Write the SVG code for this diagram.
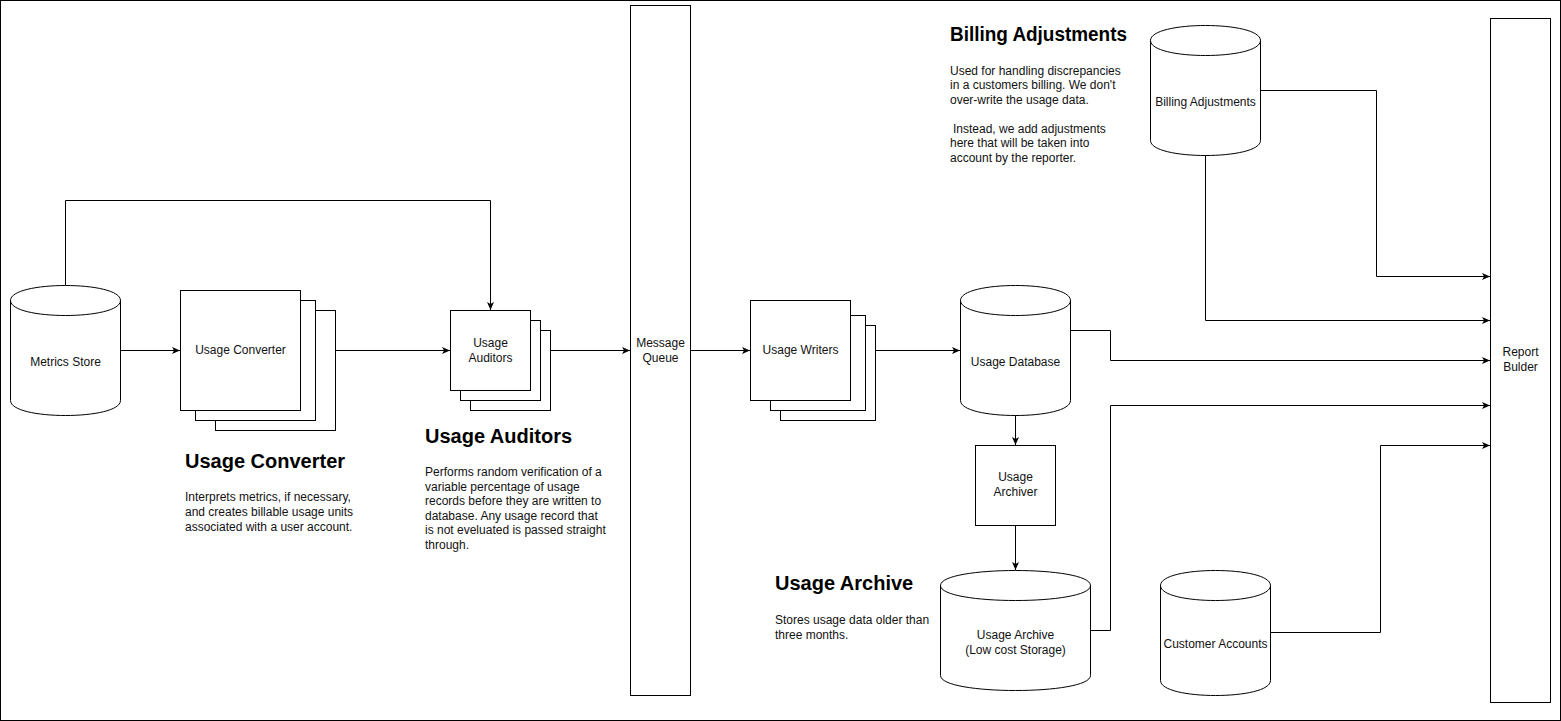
<svg xmlns="http://www.w3.org/2000/svg" width="1561" height="721" viewBox="0 0 1561 721">
<style>
.s{fill:#fff;stroke:#000;stroke-width:1}
.c{fill:none;stroke:#000;stroke-width:1}
.l{font-family:"Liberation Sans",Arial,sans-serif;font-size:12px;fill:#111;text-anchor:middle}
.h{font-family:"Liberation Sans",Arial,sans-serif;font-size:20px;font-weight:bold;fill:#000}
.b{font-family:"Liberation Sans",Arial,sans-serif;font-size:12px;fill:#111}
</style>
<defs>
<marker id="a" markerUnits="userSpaceOnUse" viewBox="0 0 8 8" refX="8" refY="4" markerWidth="8" markerHeight="8" orient="auto">
<path d="M0,0.5 L8,4 L0,7.5 L2,4 Z" fill="#000"/>
</marker>
</defs>
<rect x="0.5" y="0.5" width="1560" height="720" fill="#fff" stroke="#000"/>

<g id="connectors" class="c" marker-end="url(#a)">
<path d="M120,350.5 H180"/>
<path d="M335,350.5 H450"/>
<path d="M550,350.5 H630"/>
<path d="M690,350.5 H750"/>
<path d="M875,350.5 H960"/>
<path d="M65.5,285 V200.5 H490.5 V310"/>
<path d="M1015.5,415 V445"/>
<path d="M1015.5,525 V570"/>
<path d="M1260,90.5 H1376.5 V276.5 H1490"/>
<path d="M1205.5,155 V320.5 H1490"/>
<path d="M1070,330.5 H1110.5 V360.5 H1490"/>
<path d="M1090,630.5 H1110.5 V405.5 H1490"/>
<path d="M1270,632.5 H1380.5 V445.5 H1490"/>
</g>

<g id="metrics-store">
<path class="s" transform="translate(10.5,285.5)" d="M0,15 C0,-5 110,-5 110,15 L110,115 C110,135 0,135 0,115 Z M0,15 C0,35 110,35 110,15"/>
<text class="l" x="65.5" y="366">Metrics Store</text>
</g>

<g id="usage-converter">
<rect class="s" x="215.5" y="310.5" width="120" height="120"/>
<rect class="s" x="195.5" y="300.5" width="120" height="120"/>
<rect class="s" x="180.5" y="290.5" width="120" height="120"/>
<text class="l" x="240.5" y="354">Usage Converter</text>
</g>

<g id="usage-auditors">
<rect class="s" x="470.5" y="330.5" width="80" height="80"/>
<rect class="s" x="460.5" y="320.5" width="80" height="80"/>
<rect class="s" x="450.5" y="310.5" width="80" height="80"/>
<text class="l" x="490.5" y="347">Usage</text>
<text class="l" x="490.5" y="362">Auditors</text>
</g>

<g id="message-queue">
<rect class="s" x="630.5" y="5.5" width="60" height="690"/>
<text class="l" x="660.5" y="347">Message</text>
<text class="l" x="660.5" y="362">Queue</text>
</g>

<g id="usage-writers">
<rect class="s" x="780.5" y="325.5" width="95" height="95"/>
<rect class="s" x="770.5" y="315.5" width="95" height="95"/>
<rect class="s" x="750.5" y="300.5" width="100" height="100"/>
<text class="l" x="800.5" y="354">Usage Writers</text>
</g>

<g id="usage-database">
<path class="s" transform="translate(960.5,285.5)" d="M0,15 C0,-5 110,-5 110,15 L110,115 C110,135 0,135 0,115 Z M0,15 C0,35 110,35 110,15"/>
<text class="l" x="1015.5" y="366">Usage Database</text>
</g>

<g id="usage-archiver">
<rect class="s" x="975.5" y="445.5" width="80" height="80"/>
<text class="l" x="1015.5" y="481">Usage</text>
<text class="l" x="1015.5" y="496">Archiver</text>
</g>

<g id="usage-archive">
<path class="s" transform="translate(940.5,570.5)" d="M0,15 C0,-5 150,-5 150,15 L150,105 C150,125 0,125 0,105 Z M0,15 C0,35 150,35 150,15"/>
<text class="l" x="1015.5" y="639">Usage Archive</text>
<text class="l" x="1015.5" y="654">(Low cost Storage)</text>
</g>

<g id="customer-accounts">
<path class="s" transform="translate(1160.5,570.5)" d="M0,15 C0,-5 110,-5 110,15 L110,110 C110,130 0,130 0,110 Z M0,15 C0,35 110,35 110,15"/>
<text class="l" x="1215.5" y="648">Customer Accounts</text>
</g>

<g id="billing-adjustments">
<path class="s" transform="translate(1150.5,25.5)" d="M0,15 C0,-5 110,-5 110,15 L110,115 C110,135 0,135 0,115 Z M0,15 C0,35 110,35 110,15"/>
<text class="l" x="1205.5" y="106">Billing Adjustments</text>
</g>

<g id="report-builder">
<rect class="s" x="1490.5" y="18.5" width="60" height="684"/>
<text class="l" x="1520.5" y="356">Report</text>
<text class="l" x="1520.5" y="371">Bulder</text>
</g>

<g id="text-usage-converter">
<text class="h" x="185" y="468">Usage Converter</text>
<text class="b" x="185" y="501">Interprets metrics, if necessary,</text>
<text class="b" x="185" y="516">and creates billable usage units</text>
<text class="b" x="185" y="531">associated with a user account.</text>
</g>

<g id="text-usage-auditors">
<text class="h" x="425" y="443">Usage Auditors</text>
<text class="b" x="425" y="476">Performs random verification of a</text>
<text class="b" x="425" y="491">variable percentage of usage</text>
<text class="b" x="425" y="505">records before they are written to</text>
<text class="b" x="425" y="520">database. Any usage record that</text>
<text class="b" x="425" y="534">is not eveluated is passed straight</text>
<text class="b" x="425" y="549">through.</text>
</g>

<g id="text-billing-adjustments">
<text class="h" x="950" y="41" textLength="177" lengthAdjust="spacingAndGlyphs">Billing Adjustments</text>
<text class="b" x="950" y="75">Used for handling discrepancies</text>
<text class="b" x="950" y="89">in a customers billing. We don't</text>
<text class="b" x="950" y="104">over-write the usage data.</text>
<text class="b" x="953" y="133">Instead, we add adjustments</text>
<text class="b" x="950" y="147">here that will be taken into</text>
<text class="b" x="950" y="162">account by the reporter.</text>
</g>

<g id="text-usage-archive">
<text class="h" x="775" y="590">Usage Archive</text>
<text class="b" x="775" y="624">Stores usage data older than</text>
<text class="b" x="775" y="639">three months.</text>
</g>
</svg>
